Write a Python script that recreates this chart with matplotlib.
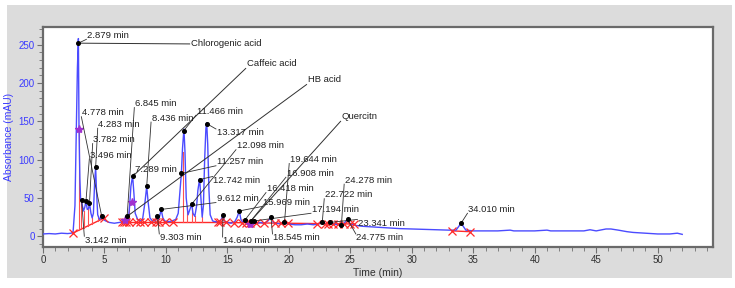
import numpy as np
import matplotlib.pyplot as plt
from matplotlib.patches import Rectangle

plt.rcParams['font.family'] = ['Liberation Sans', 'DejaVu Sans']

# chromatogram trace (time min, absorbance mAU)
trace_time = [0.0, 0.5, 1.0, 1.5, 2.0, 2.3, 2.45, 2.6, 2.7, 2.8, 2.879, 2.93, 3.0, 3.06,
              3.142, 3.2, 3.3, 3.4, 3.496, 3.6, 3.7, 3.782, 3.9, 4.0, 4.1, 4.2, 4.283,
              4.35, 4.45, 4.6, 4.7, 4.778, 4.9, 5.1, 5.4, 5.8, 6.2, 6.5, 6.7, 6.845,
              6.95, 7.05, 7.15, 7.289, 7.4, 7.5, 7.7, 7.9, 8.1, 8.3, 8.436, 8.55, 8.7,
              8.9, 9.1, 9.2, 9.303, 9.4, 9.5, 9.612, 9.75, 9.9, 10.2, 10.5, 10.8, 11.0,
              11.15, 11.257, 11.35, 11.466, 11.55, 11.65, 11.8, 11.95, 12.098, 12.2,
              12.35, 12.5, 12.6, 12.742, 12.85, 12.95, 13.05, 13.15, 13.25, 13.317,
              13.4, 13.5, 13.6, 13.8, 14.0, 14.3, 14.5, 14.64, 14.75, 15.0, 15.3, 15.6,
              15.8, 15.969, 16.1, 16.25, 16.418, 16.6, 16.8, 16.908, 17.0, 17.194, 17.4,
              17.7, 18.0, 18.3, 18.545, 18.75, 19.0, 19.3, 19.644, 19.9, 20.5, 21.0,
              21.5, 22.0, 22.4, 22.722, 23.0, 23.341, 23.7, 24.0, 24.278, 24.5, 24.775,
              25.0, 25.5, 26.0, 27.0, 28.0, 29.0, 30.0, 31.0, 32.0, 33.0, 33.6, 34.01,
              34.4, 35.0, 36.0, 37.0, 38.0, 38.3, 39.0, 40.0, 41.0, 41.3, 42.0, 43.0,
              44.0, 44.5, 45.0, 45.8, 46.2, 46.8, 47.5, 48.0, 49.0, 50.0, 51.0, 51.6, 52.0]
trace_abs = [3, 3.5, 3, 4, 3.5, 4, 6, 40, 130, 220, 258, 140, 75, 48,
             47, 40, 33, 38, 46, 35, 36, 43, 30, 24, 30, 70, 90,
             60, 28, 22, 24, 27, 22, 20, 18, 17, 18, 19, 22, 27,
             24, 40, 65, 79, 55, 30, 22, 20, 22, 45, 65, 45, 24,
             20, 20, 22, 28, 22, 27, 35, 24, 20, 19, 20, 22, 30,
             60, 82, 115, 140, 110, 50, 28, 35, 42, 30,
             26, 40, 60, 75, 50, 25, 40, 100, 140, 148,
             120, 60, 28, 20, 19, 19, 22, 28, 20, 18, 17, 19,
             25, 33, 22, 18, 21, 16, 18, 20, 17, 21, 17,
             18, 17, 20, 25, 18, 17, 16, 19, 16, 15, 15,
             16, 15, 16, 19, 16, 18, 16, 15, 16, 17, 22,
             16, 14, 13, 12, 11, 10, 9.5, 9, 8.5, 8, 8, 17,
             8, 7, 7, 7, 8, 7, 7, 7, 8, 7, 7, 7,
             7, 8.5, 7, 9.5, 9.5, 8, 6, 5, 4, 3, 3, 4, 2.5]

# integrated peaks: retention time, apex height, label position (time, abs)
peak_rt = [2.879, 3.142, 3.496, 3.782, 4.283, 4.778, 6.845, 7.289, 8.436, 9.303,
           9.612, 11.257, 11.466, 12.098, 12.742, 13.317, 14.640, 15.969, 16.418,
           16.908, 17.194, 18.545, 19.644, 22.722, 23.341, 24.278, 24.775, 34.010]
peak_abs = [252, 47, 46, 43, 90, 26, 26, 78, 65, 27,
            35, 82, 138, 42, 74, 147, 28, 33, 21,
            20, 20, 25, 18, 19, 18, 15, 22, 17]
label_t = [3.58, 3.41, 3.82, 4.09, 4.50, 3.17, 7.48, 7.48, 8.84, 9.51,
           14.12, 14.12, 12.50, 15.75, 13.85, 14.12, 14.66, 17.91, 18.19,
           19.81, 21.85, 18.72, 20.08, 22.93, 25.63, 24.55, 25.50, 34.58]
label_a = [262, -5, 106, 126, 146, 161, 173, 87, 154, -2,
           49, 97, 163, 118, 73, 135, -6, 44, 62,
           82, 35, -2, 100, 54, 17, 73, -2, 35]

# identified compounds: name, index of the peak, label position
compound_names = ['Chlorogenic acid', 'Caffeic acid', 'HB acid', 'Quercitn']
compound_peak = [0, 7, 6, 19]
compound_t = [12.03, 16.59, 21.54, 24.31]
compound_a = [251, 225, 204, 156]

# baseline segments (start/end times and heights) and their X markers
base_segments = [([2.42, 5.0], [4, 24]), ([6.45, 9.95], [19, 19]),
                 ([9.95, 14.3], [18, 18]), ([14.3, 25.3], [18, 16]),
                 ([33.3, 34.7], [7, 6])]
cross_t = [2.42, 5.0, 6.45, 6.6, 6.75, 7.0, 7.55, 7.9, 8.2, 8.8, 9.2, 9.45, 9.95,
           10.6, 14.2, 14.4, 14.85, 15.55, 16.2, 16.55, 16.8, 17.3, 18.0, 18.9,
           19.35, 19.9, 22.3, 22.9, 23.2, 23.6, 24.0, 24.5, 25.0, 25.3, 33.3, 34.7]
cross_a = [4, 24, 19, 19, 19, 19, 19, 19, 19, 19, 19, 19, 19,
           18, 18, 18, 18, 17.8, 17.6, 17.5, 17.4, 17.3, 17.2, 17, 16.9, 16.8,
           16.6, 16.5, 16.4, 16.3, 16.2, 16.1, 16, 16, 7, 6]
drop_t = [2.93, 3.06, 3.3, 3.65, 4.0, 4.5, 7.0, 11.36, 11.7, 12.09, 12.36, 12.95]
drop_top = [140, 48, 33, 35, 24, 27, 45, 110, 40, 42, 26, 25]
drop_bot = [8, 9, 11, 13, 16, 20, 19, 18, 18, 18, 18, 18]
star_t = [2.93, 6.67, 7.21, 16.85]
star_a = [140, 21, 45, 16]

fig = plt.figure(figsize=(7.35, 2.88), dpi=100, facecolor='white')
bg = Rectangle((0.0095, 0.035), 0.986, 0.948, transform=fig.transFigure,
               facecolor='#dcdcdc', edgecolor='none', zorder=-10)
fig.add_artist(bg)
ax = fig.add_axes([0.0585, 0.1424, 0.9115, 0.7636])
ax.set_facecolor('white')

ax.plot(trace_time, trace_abs, color='#4b4bff', lw=1.0, zorder=3)

for (bt, ba) in base_segments:
    ax.plot(bt, ba, color='#ff2a2a', lw=1.0, zorder=2)
for t, top, bot in zip(drop_t, drop_top, drop_bot):
    ax.plot([t, t], [bot, top], color='#ff5050', lw=0.8, zorder=2)
ax.plot(cross_t, cross_a, 'x', color='#ff2a2a', ms=6, mew=0.9, ls='none', zorder=4)
ax.plot(star_t, star_a, '*', color='#a030d0', ms=6, ls='none', zorder=5)

for rt, pa, lt, la in zip(peak_rt, peak_abs, label_t, label_a):
    ey = la - 5 if la > pa else la + 5
    ax.plot([rt, lt - 0.05], [pa, ey], color='#303030', lw=0.6, zorder=6)
    ax.text(lt, la, f'{rt:.3f} min', fontsize=6.8, color='#202020',
            ha='left', va='center', zorder=7)
ax.plot(peak_rt, peak_abs, 'o', color='black', ms=2.6, ls='none', zorder=8)

for name, pi, ct, ca in zip(compound_names, compound_peak, compound_t, compound_a):
    ey = ca if pi == 0 else ca - 6
    ax.plot([peak_rt[pi], ct - 0.1], [peak_abs[pi], ey], color='#303030', lw=0.7, zorder=6)
    ax.text(ct, ca, name, fontsize=6.8, color='#202020', ha='left', va='center', zorder=7)

ax.set_xlim(0, 54.5)
ax.set_ylim(-14, 273)
ax.set_xticks(np.arange(0, 55, 5))
ax.set_xticks(np.arange(0, 55, 1), minor=True)
ax.set_yticks(np.arange(0, 251, 50))
ax.set_yticks(np.arange(-10, 271, 10), minor=True)
ax.tick_params(axis='both', which='both', direction='out', color='#707070')
ax.tick_params(axis='both', which='major', length=4, width=0.8, labelsize=7)
ax.tick_params(axis='both', which='minor', length=3, width=0.6)
ax.tick_params(axis='y', labelcolor='#3a3aff', pad=2)
ax.tick_params(axis='x', labelcolor='#303030', pad=2)
for s in ax.spines.values():
    s.set_color('#6a6a6a')
    s.set_linewidth(1.6)
ax.set_xlabel('Time (min)', fontsize=7.5, color='#303030', labelpad=2)
ax.set_ylabel('Absorbance (mAU)', fontsize=7.5, color='#3a3aff', labelpad=3)

fig.savefig('out.png', dpi=100, facecolor='white')
